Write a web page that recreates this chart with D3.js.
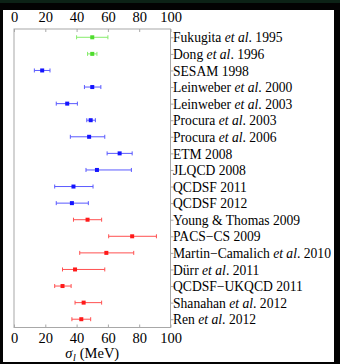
<!DOCTYPE html>
<html>
<head>
<meta charset="utf-8">
<script src="https://cdn.jsdelivr.net/npm/d3@7"></script>
<style>
  html, body { margin: 0; padding: 0; background: #030303; }
  svg { display: block; }
</style>
</head>
<body>
<script>
// Sigma-term determinations (MeV), one row per study
const studies = [
  "Fukugita et al. 1995",
  "Dong et al. 1996",
  "SESAM 1998",
  "Leinweber et al. 2000",
  "Leinweber et al. 2003",
  "Procura et al. 2003",
  "Procura et al. 2006",
  "ETM 2008",
  "JLQCD 2008",
  "QCDSF 2011",
  "QCDSF 2012",
  "Young & Thomas 2009",
  "PACS\u2212CS 2009",
  "Martin\u2212Camalich et al. 2010",
  "Dürr et al. 2011",
  "QCDSF\u2212UKQCD 2011",
  "Shanahan et al. 2012",
  "Ren et al. 2012"
];
const sigma   = [50, 50, 18, 50, 34, 49, 48, 67.5, 53, 38, 37, 47, 75.5, 59, 39, 31, 44.5, 43];
const errLow  = [10, 3, 5, 5, 7, 2.5, 12, 8, 7, 12, 10, 9, 15, 17, 8, 5, 5.5, 6];
const errHigh = [10, 3, 5, 5.5, 6.5, 3, 10, 8, 22, 12.5, 10.5, 9, 15.5, 17.5, 19, 5.5, 11.5, 6];
const group   = ["a", "a", "b", "b", "b", "b", "b", "b", "b", "b", "b",
                 "c", "c", "c", "c", "c", "c", "c"];
const xTicks  = [0, 20, 40, 60, 80, 100];

(function draw() {
  const W = 340, H = 364;
  const markColor = { a: "#4fdc2e", b: "#1414ff", c: "#ff1a1a" };
  const barColor  = { a: "#86ec6c", b: "#5a5aff", c: "#ff5050" };

  const svg = d3.select("body").append("svg").attr("width", W).attr("height", H);

  // white sheet on a dark surround
  svg.append("rect").attr("x", 0).attr("y", 0).attr("width", W).attr("height", 3).attr("fill", "#0c2216");
  svg.append("rect").attr("x", 3).attr("y", 10).attr("width", 331).attr("height", 352).attr("fill", "#ffffff");

  const mLeft = 14, mRight = 170.5, mTop = 29, mBottom = 327.5;
  const x = d3.scaleLinear().domain([0, 100]).range([mLeft, mRight]);
  const y = d3.scalePoint().domain(studies).range([mTop, mBottom]).padding(0.5);

  const font = "'Liberation Serif', 'Times New Roman', serif";

  // frame
  svg.append("rect")
    .attr("x", mLeft).attr("y", mTop)
    .attr("width", mRight - mLeft).attr("height", mBottom - mTop)
    .attr("fill", "none").attr("stroke", "#a8a8a8").attr("stroke-width", 1);

  function styleAxis(g) {
    g.select(".domain").remove();
    g.selectAll(".tick line").attr("stroke", "#a8a8a8");
    g.selectAll(".tick text").attr("fill", "#000").style("font-family", font).style("font-size", "14.5px");
  }

  svg.append("g").attr("transform", `translate(0,${mTop})`)
    .call(d3.axisTop(x).tickValues(xTicks).tickSize(-3).tickPadding(7))
    .call(styleAxis);

  svg.append("g").attr("transform", `translate(0,${mBottom})`)
    .call(d3.axisBottom(x).tickValues(xTicks).tickSize(-3).tickPadding(5))
    .call(styleAxis);

  // study names on the right, with "et al." set in italics
  const yAxis = svg.append("g").attr("transform", `translate(${mRight},0)`)
    .call(d3.axisRight(y).tickSize(3).tickPadding(0))
    .call(styleAxis);

  yAxis.selectAll(".tick text").each(function(d) {
    const t = d3.select(this).text("").attr("x", 2.5).attr("dy", "0.34em").style("font-size", "13.6px");
    const parts = d.split("et al.");
    parts.forEach((p, i) => {
      if (i > 0) t.append("tspan").style("font-style", "italic").text("et al");
      const s = i > 0 ? "." + p : p;
      if (s) t.append("tspan").text(s);
    });
  });

  // error bars and central values
  const rows = studies.map((s, i) => ({ s, v: sigma[i], lo: sigma[i] - errLow[i], hi: sigma[i] + errHigh[i], g: group[i] }));
  const pts = svg.append("g").selectAll("g").data(rows).join("g")
    .attr("transform", d => `translate(0,${y(d.s)})`);

  pts.append("line")
    .attr("x1", d => x(d.lo)).attr("x2", d => x(d.hi))
    .attr("stroke", d => barColor[d.g]).attr("stroke-width", 1);
  pts.append("line")
    .attr("x1", d => x(d.lo)).attr("x2", d => x(d.lo)).attr("y1", -2).attr("y2", 2)
    .attr("stroke", d => barColor[d.g]).attr("stroke-width", 1);
  pts.append("line")
    .attr("x1", d => x(d.hi)).attr("x2", d => x(d.hi)).attr("y1", -2).attr("y2", 2)
    .attr("stroke", d => barColor[d.g]).attr("stroke-width", 1);
  pts.append("rect")
    .attr("x", d => x(d.v) - 2).attr("y", -2).attr("width", 4).attr("height", 4)
    .attr("fill", d => markColor[d.g]);

  // axis title: sigma with subscript l, then the unit
  const tg = svg.append("g").style("font-family", font).attr("fill", "#000");
  const base = 358;
  const sym = tg.append("text").attr("y", base).style("font-size", "14.5px").style("font-style", "italic").text("σ");
  const sub = tg.append("text").attr("y", base + 3).style("font-size", "10px").style("font-style", "italic").text("l");
  const unit = tg.append("text").attr("y", base).style("font-size", "14.5px").text("(MeV)");
  const w1 = sym.node().getComputedTextLength();
  const w2 = sub.node().getComputedTextLength();
  const w3 = unit.node().getComputedTextLength();
  const gap = 4;
  const total = w1 + 0.5 + w2 + gap + w3;
  const x0 = (mLeft + mRight) / 2 - total / 2;
  sym.attr("x", x0);
  sub.attr("x", x0 + w1 + 0.5);
  unit.attr("x", x0 + w1 + 0.5 + w2 + gap);
})();
</script>
</body>
</html>
